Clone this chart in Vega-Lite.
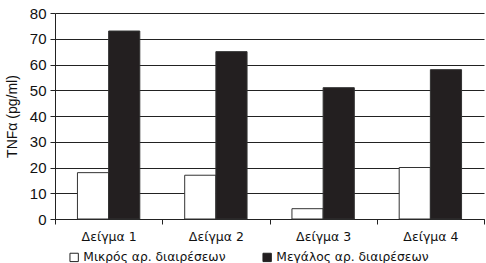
{
  "$schema": "https://vega.github.io/schema/vega-lite/v6.json",
  "autosize": {"type": "none"},
  "width": 429,
  "height": 206,
  "padding": {"left": 55, "top": 13, "right": 2, "bottom": 44},
  "background": "white",
  "data": {
    "values": [
      {"sample": "Δείγμα 1", "group": "Μικρός αρ. διαιρέσεων", "value": 18},
      {"sample": "Δείγμα 1", "group": "Μεγάλος αρ. διαιρέσεων", "value": 73},
      {"sample": "Δείγμα 2", "group": "Μικρός αρ. διαιρέσεων", "value": 17},
      {"sample": "Δείγμα 2", "group": "Μεγάλος αρ. διαιρέσεων", "value": 65},
      {"sample": "Δείγμα 3", "group": "Μικρός αρ. διαιρέσεων", "value": 4},
      {"sample": "Δείγμα 3", "group": "Μεγάλος αρ. διαιρέσεων", "value": 51},
      {"sample": "Δείγμα 4", "group": "Μικρός αρ. διαιρέσεων", "value": 20},
      {"sample": "Δείγμα 4", "group": "Μεγάλος αρ. διαιρέσεων", "value": 58}
    ]
  },
  "config": {
    "view": {"stroke": null}
  },
  "mark": {"type": "bar", "stroke": "#333333", "strokeWidth": 1},
  "encoding": {
    "x": {
      "field": "sample",
      "type": "nominal",
      "scale": {"paddingInner": 0, "paddingOuter": 0},
      "axis": {
        "title": null,
        "labelAngle": 0,
        "labelFont": "DejaVu Sans",
        "labelFontSize": 12.5,
        "labelColor": "#111111",
        "labelPadding": 6,
        "domainColor": "#222222",
        "tickColor": "#222222",
        "tickBand": "extent",
        "tickSize": 5,
        "grid": false
      }
    },
    "xOffset": {
      "field": "group",
      "type": "nominal",
      "sort": ["Μικρός αρ. διαιρέσεων", "Μεγάλος αρ. διαιρέσεων"],
      "scale": {"paddingInner": 0, "paddingOuter": 0.72}
    },
    "y": {
      "field": "value",
      "type": "quantitative",
      "scale": {"domain": [0, 80]},
      "axis": {
        "title": "TNFα (pg/ml)",
        "titleFont": "Liberation Sans",
        "titleFontSize": 14,
        "titleFontWeight": "normal",
        "titleColor": "#111111",
        "titlePadding": 10,
        "values": [0, 10, 20, 30, 40, 50, 60, 70, 80],
        "labelFont": "Liberation Sans",
        "labelFontSize": 15,
        "labelColor": "#111111",
        "labelPadding": 4,
        "tickSize": 5,
        "tickColor": "#222222",
        "domainColor": "#222222",
        "gridColor": "#222222",
        "gridOpacity": 1
      }
    },
    "fill": {
      "field": "group",
      "type": "nominal",
      "sort": ["Μικρός αρ. διαιρέσεων", "Μεγάλος αρ. διαιρέσεων"],
      "scale": {
        "domain": ["Μικρός αρ. διαιρέσεων", "Μεγάλος αρ. διαιρέσεων"],
        "range": ["#ffffff", "#231f20"]
      },
      "legend": {
        "title": null,
        "orient": "none",
        "legendX": 13,
        "legendY": 238,
        "direction": "horizontal",
        "symbolType": "square",
        "symbolSize": 70,
        "symbolStrokeColor": "#222222",
        "symbolStrokeWidth": 1,
        "labelFont": "DejaVu Sans",
        "labelFontSize": 12.3,
        "labelColor": "#111111",
        "labelOffset": 3,
        "labelLimit": 300,
        "columnPadding": 34,
        "padding": 0
      }
    }
  }
}
